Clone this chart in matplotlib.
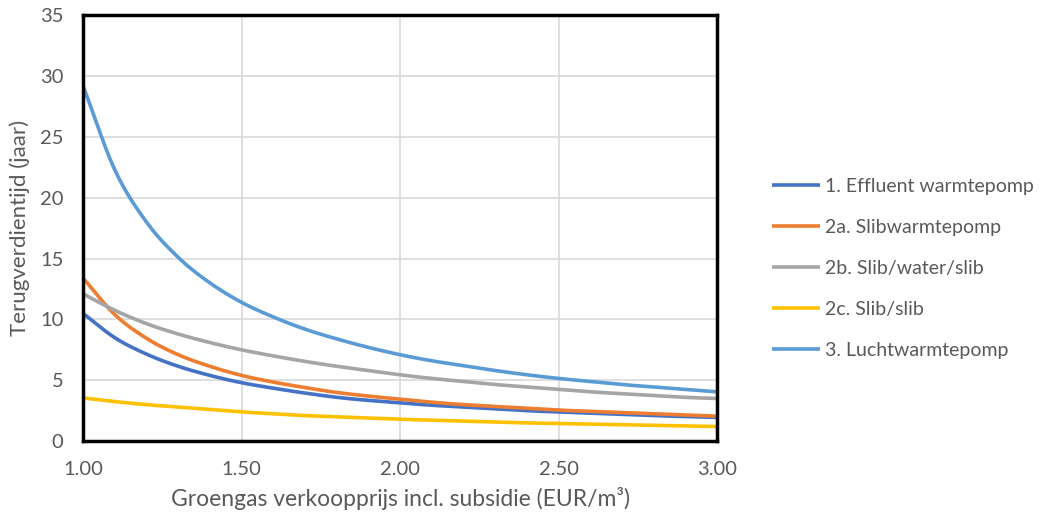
import numpy as np
import matplotlib.pyplot as plt

plt.rcParams['font.family'] = ['Lato', 'DejaVu Sans']

prijs = [1.0, 1.1, 1.2, 1.3, 1.4, 1.5, 1.6, 1.7, 1.8, 1.9, 2.0,
         2.1, 2.2, 2.3, 2.4, 2.5, 2.6, 2.7, 2.8, 2.9, 3.0]

effluent = [10.5, 8.5, 7.15, 6.15, 5.4, 4.8, 4.35, 3.95, 3.6, 3.35, 3.15,
            2.95, 2.8, 2.65, 2.5, 2.4, 2.3, 2.2, 2.1, 2.02, 1.95]
slibwarmte = [13.4, 10.4, 8.45, 7.1, 6.15, 5.4, 4.85, 4.4, 4.0, 3.7, 3.45,
              3.2, 3.0, 2.85, 2.7, 2.55, 2.45, 2.35, 2.25, 2.15, 2.05]
slib_water_slib = [12.1, 10.75, 9.65, 8.8, 8.1, 7.5, 7.0, 6.55, 6.15, 5.8, 5.45,
                   5.15, 4.9, 4.65, 4.45, 4.25, 4.05, 3.9, 3.75, 3.6, 3.5]
slib_slib = [3.55, 3.25, 3.0, 2.8, 2.6, 2.4, 2.25, 2.1, 2.0, 1.9, 1.8,
             1.72, 1.65, 1.57, 1.5, 1.45, 1.4, 1.35, 1.3, 1.25, 1.2]
lucht = [29.2, 22.3, 18.0, 15.1, 13.0, 11.4, 10.2, 9.2, 8.4, 7.7, 7.1,
         6.6, 6.2, 5.8, 5.45, 5.15, 4.9, 4.65, 4.45, 4.25, 4.05]

series = [
    ("1. Effluent warmtepomp", effluent, "#4472C4"),
    ("2a. Slibwarmtepomp", slibwarmte, "#ED7D31"),
    ("2b. Slib/water/slib", slib_water_slib, "#A5A5A5"),
    ("2c. Slib/slib", slib_slib, "#FFC000"),
    ("3. Luchtwarmtepomp", lucht, "#5B9BD5"),
]


def smooth(x, y, n=12):
    # catmull-rom, like excel's smoothed line
    x = np.asarray(x, float)
    y = np.asarray(y, float)
    px = np.concatenate([[2 * x[0] - x[1]], x, [2 * x[-1] - x[-2]]])
    py = np.concatenate([[2 * y[0] - y[1]], y, [2 * y[-1] - y[-2]]])
    t = np.linspace(0, 1, n, endpoint=False)
    xs, ys = [], []
    for i in range(1, len(px) - 2):
        for p, out in ((px, xs), (py, ys)):
            p0, p1, p2, p3 = p[i - 1], p[i], p[i + 1], p[i + 2]
            out.extend(0.5 * (2 * p1 + (-p0 + p2) * t
                              + (2 * p0 - 5 * p1 + 4 * p2 - p3) * t ** 2
                              + (-p0 + 3 * p1 - 3 * p2 + p3) * t ** 3))
    xs.append(x[-1])
    ys.append(y[-1])
    return xs, ys


fig = plt.figure(figsize=(10.47, 5.19), dpi=100)
ax = fig.add_axes([0.0793, 0.150, 0.6057, 0.821])

for label, vals, col in series:
    sx, sy = smooth(prijs, vals)
    ax.plot(sx, sy, color=col, lw=2.6, label=label, solid_capstyle='butt')

ax.set_xlim(1.0, 3.0)
ax.set_ylim(0, 35)
ax.set_xticks([1.0, 1.5, 2.0, 2.5, 3.0])
ax.set_xticklabels(["1.00", "1.50", "2.00", "2.50", "3.00"])
ax.set_yticks(range(0, 36, 5))
ax.grid(True, color="#D9D9D9", lw=1.2)
ax.set_axisbelow(True)
ax.tick_params(length=0, labelsize=14.5, colors="#595959")
ax.tick_params(axis='x', pad=14)
ax.tick_params(axis='y', pad=14)
for s in ax.spines.values():
    s.set_color("black")
    s.set_linewidth(2.5)

ax.set_xlabel("Groengas verkoopprijs incl. subsidie (EUR/m³)", fontsize=16.5,
              color="#595959")
ax.xaxis.set_label_coords(0.5, -0.108)
ax.set_ylabel("Terugverdientijd (jaar)", fontsize=16, color="#595959")
ax.yaxis.set_label_coords(-0.083, 0.5)

fig.legend(loc="center left", bbox_to_anchor=(0.721, 0.483), frameon=False,
           fontsize=14, labelspacing=1.24, handlelength=2.45, handletextpad=0.25,
           labelcolor="#595959")

fig.savefig("out.png", dpi=100)
